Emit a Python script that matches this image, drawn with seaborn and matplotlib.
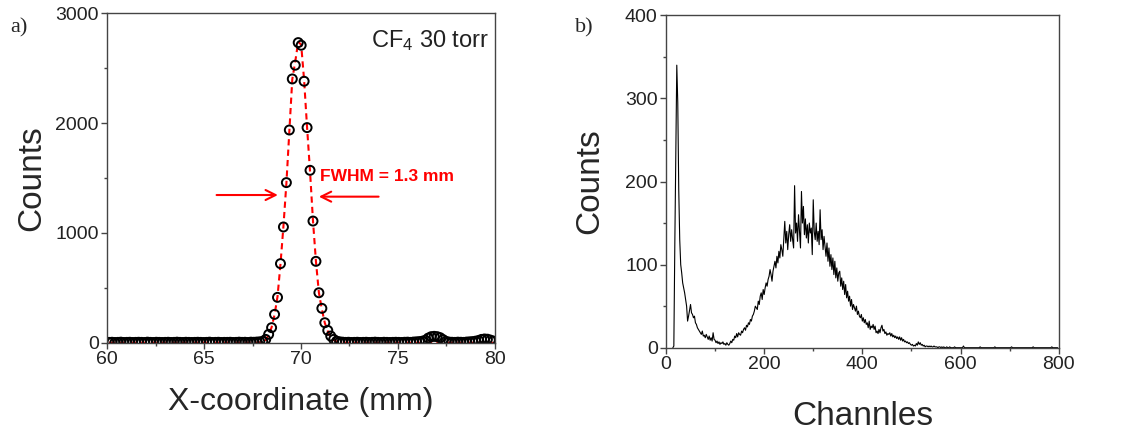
import numpy as np
import pandas as pd
import matplotlib
matplotlib.use("Agg")
import matplotlib.pyplot as plt
import seaborn as sns

# ---------------- Panel a: position spectrum ----------------
pos_start = 60.09
pos_step = 0.1526
pos_counts = [
    3, 4, 2, 3, 5, 2, 3, 4, 2, 3,
    4, 3, 2, 5, 3, 2, 4, 3, 2, 3,
    4, 2, 3, 5, 3, 2, 4, 3, 2, 3,
    4, 3, 2, 3, 5, 2, 3, 4, 2, 3,
    3, 4, 2, 3, 5, 3, 4, 2, 5, 4,
    6, 8, 12,
    30, 76, 137, 258, 413, 720, 1054, 1458, 1937, 2402, 2527, 2733,
    2709, 2381, 1959, 1570, 1108, 741, 455, 313, 182, 112, 61, 30,
    14, 8, 5, 3, 4, 2, 3, 4, 2, 3,
    4, 2, 3, 5, 3, 2, 4, 3, 2, 3,
    4, 3, 2, 4, 5, 3, 6, 8, 10, 14,
    22, 42, 55, 58, 55, 46, 28, 12,
    6, 4, 3, 5, 4, 3, 6, 8, 10, 14,
    20, 30, 34, 32, 24, 15,
]
fit_counts = [0] * 50 + [
    1, 3, 8, 25, 70, 140, 255, 420, 715, 1060, 1450, 1930, 2400, 2560,
    2740, 2715, 2390, 1960, 1560, 1110, 740, 455, 305, 180, 105, 55, 25,
    10, 4, 1, 0,
] + [0] * 50

# ---------------- Panel b: pulse height spectrum ----------------
ch_start = 14
ch_step = 2
ph_counts = [
    0, 2, 125, 230, 340, 295, 190, 130, 100, 90,
    78, 72, 66, 58, 50, 32, 38, 45, 52, 42,
    40, 36, 38, 30, 28, 24, 22, 20, 18, 16,
    20, 14, 15, 12, 16, 13, 10, 14, 9, 12,
    8, 18, 10, 9, 6, 8, 5, 7, 4, 6,
    5, 7, 4, 5, 3, 6, 4, 3, 5, 8,
    6, 10, 9, 14, 12, 17, 13, 18, 16, 15,
    20, 18, 22, 24, 21, 27, 25, 30, 28, 34,
    32, 38, 40, 44, 50, 48, 46, 56, 52, 62,
    66, 58, 70, 64, 72, 78, 74, 82, 86, 94,
    88, 80, 92, 98, 104, 96, 110, 102, 116, 108,
    124, 118, 110, 132, 152, 126, 140, 118, 136, 148,
    128, 142, 130, 120, 195, 138, 150, 128, 160, 140,
    120, 188, 150, 170, 136, 155, 132, 148, 126, 150,
    138, 144, 112, 178, 140, 130, 150, 128, 140, 124,
    166, 130, 142, 118, 134, 122, 110, 126, 104, 120,
    98, 112, 94, 108, 88, 104, 84, 96, 80, 90,
    92, 74, 84, 70, 80, 64, 76, 60, 68, 56,
    62, 50, 58, 46, 52, 48, 44, 50, 40, 44,
    38, 36, 40, 32, 36, 30, 34, 28, 30, 24,
    32, 22, 26, 24, 28, 22, 26, 18, 20, 17,
    22, 18, 24, 27, 20, 22, 17, 19, 15, 17,
    16, 18, 14, 17, 13, 15, 12, 14, 11, 13,
    10, 13, 9, 12, 8, 10, 7, 8, 6, 7,
    5, 6, 4, 3, 4, 2, 3, 2, 5, 3,
    7, 4, 6, 3, 4, 2, 3, 1, 2, 2,
    1, 2, 1, 2, 1, 1, 2, 1, 1, 1,
    0, 1, 1, 0, 1, 0, 1, 0, 0, 1,
    0, 0, 1, 0, 0, 0, 0, 1, 0, 0,
    0, 0, 0, 0, 0, 0, 2, 0, 0, 0,
    0, 0, 0, 0, 0, 0, 0, 0, 0, 0,
    0, 0, 0, 1, 0, 0, 0, 0, 0, 0,
    0, 0, 0, 0, 0, 0, 0, 0, 1, 0,
    0, 0, 0, 0, 0, 0, 0, 0, 0, 0,
    0, 0, 0, 0, 0, 1, 0, 0, 0, 0,
    0, 0, 0, 0, 0, 0, 0, 0, 0, 0,
    0, 0, 0, 0, 0, 0, 0, 1, 0, 0,
    0, 0, 0, 0, 0, 0, 0, 0, 0, 0,
    0, 0, 0, 0, 0, 0, 1, 0, 0, 0,
    0, 0, 0,
]

df_a = pd.DataFrame({
    "x": pos_start + pos_step * np.arange(len(pos_counts)),
    "counts": pos_counts,
    "fit": fit_counts,
})
df_b = pd.DataFrame({
    "channel": ch_start + ch_step * np.arange(len(ph_counts)),
    "counts": ph_counts,
})

sns.set_theme(style="ticks")
plt.rcParams["font.family"] = ["Liberation Sans", "DejaVu Sans"]
plt.rcParams["mathtext.default"] = "regular"

fig = plt.figure(figsize=(11.21, 4.30), dpi=100)
ax1 = fig.add_axes([0.0957, 0.2030, 0.3456, 0.7661])
ax2 = fig.add_axes([0.5941, 0.1914, 0.3503, 0.7730])

spine_col = "#444444"
for ax in (ax1, ax2):
    for s in ax.spines.values():
        s.set_color(spine_col)
        s.set_linewidth(1.0)
        s.set_zorder(5)
    ax.tick_params(which="major", direction="out", length=4, width=1,
                   color=spine_col, labelsize=14, labelcolor="#222222", pad=2)
    ax.tick_params(which="minor", direction="out", length=2.5, width=1,
                   color=spine_col)

# Panel a
sns.lineplot(data=df_a, x="x", y="fit", ax=ax1, color="#ff0000",
             linewidth=1.5, linestyle=(0, (3, 2)), zorder=3)
sns.scatterplot(data=df_a, x="x", y="counts", ax=ax1, s=42,
                facecolors="none", edgecolor="black", linewidth=1.4,
                zorder=4)
ax1.set_xlim(60, 80)
ax1.set_ylim(0, 3000)
ax1.set_xticks([60, 65, 70, 75, 80])
ax1.set_xticks(np.arange(60, 80.1, 2.5), minor=True)
ax1.set_yticks([0, 1000, 2000, 3000])
ax1.set_yticks([500, 1500, 2500], minor=True)
ax1.set_xlabel("X-coordinate (mm)", fontsize=23)
ax1.set_ylabel("Counts", fontsize=24)
ax1.xaxis.set_label_coords(0.5, -0.135)
ax1.yaxis.set_label_coords(-0.155, 0.5)
ax1.text(0.985, 0.955, "CF$_4$ 30 torr", transform=ax1.transAxes,
         ha="right", va="top", fontsize=17, color="#222222")
ax1.text(71.0, 1510, "FWHM = 1.3 mm", color="#ff0000", fontsize=12.5,
         fontweight="bold", ha="left", va="center")
ax1.annotate("", xy=(68.95, 1345), xytext=(65.5, 1345),
             arrowprops=dict(arrowstyle="->,head_length=0.6,head_width=0.3",
                             color="#ff0000", lw=1.5))
ax1.annotate("", xy=(70.78, 1330), xytext=(74.15, 1330),
             arrowprops=dict(arrowstyle="->,head_length=0.6,head_width=0.3",
                             color="#ff0000", lw=1.5))

# Panel b
sns.lineplot(data=df_b, x="channel", y="counts", ax=ax2, color="black",
             linewidth=0.8)
ax2.set_xlim(0, 800)
ax2.set_ylim(0, 400)
ax2.set_xticks([0, 200, 400, 600, 800])
ax2.set_xticks(np.arange(0, 801, 100), minor=True)
ax2.set_yticks([0, 100, 200, 300, 400])
ax2.set_yticks([50, 150, 250, 350], minor=True)
ax2.set_xlabel("Channles", fontsize=24)
ax2.set_ylabel("Counts", fontsize=24)
ax2.xaxis.set_label_coords(0.5, -0.16)
ax2.yaxis.set_label_coords(-0.155, 0.5)

fig.text(10 / 1121, 1 - 28 / 430, "a)", fontsize=16, family="Liberation Serif",
         ha="left", va="center")
fig.text(575 / 1121, 1 - 28 / 430, "b)", fontsize=16, family="Liberation Serif",
         ha="left", va="center")

fig.savefig("out.png", dpi=100)
